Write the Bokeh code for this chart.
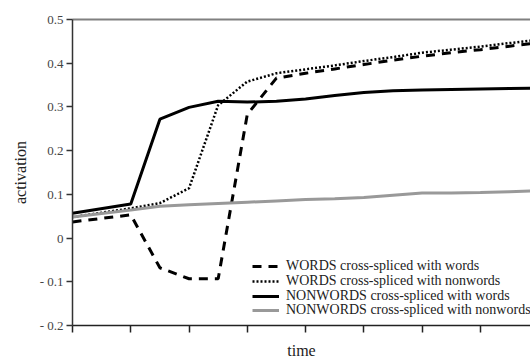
from bokeh.plotting import figure
from bokeh.models import Range1d, FixedTicker, LinearAxis, Legend, LegendItem, CustomLabelingPolicy
from bokeh.embed import file_html
from bokeh.resources import INLINE

# ---- data ----
t = [0, 1, 1.5, 2, 2.5, 3, 3.5, 4, 4.5, 5, 5.5, 6, 6.5, 7, 7.5, 8]
words_words = [0.037, 0.053, -0.068, -0.093, -0.093, 0.283, 0.366, 0.377, 0.387, 0.397,
               0.407, 0.416, 0.424, 0.431, 0.439, 0.447]
words_nonwords = [0.048, 0.068, 0.080, 0.114, 0.304, 0.358, 0.377, 0.386, 0.395, 0.405,
                  0.414, 0.424, 0.431, 0.438, 0.446, 0.454]
nonwords_words = [0.057, 0.078, 0.272, 0.299, 0.313, 0.311, 0.313, 0.318, 0.326, 0.333,
                  0.337, 0.339, 0.340, 0.341, 0.342, 0.343]
nonwords_nonwords = [0.048, 0.064, 0.073, 0.076, 0.079, 0.082, 0.085, 0.088, 0.090, 0.093,
                     0.098, 0.103, 0.103, 0.104, 0.106, 0.108]

series_labels = ["WORDS cross-spliced with words",
                 "WORDS cross-spliced with nonwords",
                 "NONWORDS cross-spliced with words",
                 "NONWORDS cross-spliced with nonwords"]
y_ticks = [-0.2, -0.1, 0, 0.1, 0.2, 0.3, 0.4, 0.5]
y_tick_labels = ["- 0.2", "- 0.1", "0", "0.1", "0.2", "0.3", "0.4", "0.5"]
x_ticks = [0, 1, 2, 3, 4, 5, 6, 7, 8]

FONT = "Liberation Serif"

p = figure(width=530, height=361, output_backend="svg", toolbar_location=None,
           x_range=Range1d(0, 7.86), y_range=Range1d(-0.2, 0.5),
           min_border_left=72, min_border_top=19, min_border_bottom=35, min_border_right=0)
p.outline_line_color = None
p.grid.visible = False
p.background_fill_color = "white"
p.border_fill_color = "white"

r1 = p.line(t, words_words, line_color="black", line_width=3, line_dash="9 7")
r2 = p.line(t, words_nonwords, line_color="black", line_width=2.5, line_dash="2 2")
r3 = p.line(t, nonwords_words, line_color="black", line_width=3)
r4 = p.line(t, nonwords_nonwords, line_color="#999999", line_width=3)

# y axis
ya = p.yaxis[0]
ya.ticker = FixedTicker(ticks=y_ticks)
ya.major_label_overrides = {v: s for v, s in zip(y_ticks, y_tick_labels)}
ya.major_label_text_font = FONT
ya.major_label_text_font_size = "13px"
ya.major_label_text_color = "#444444"
ya.major_tick_in = 0
ya.major_tick_out = 6
ya.minor_tick_line_color = None
ya.axis_line_color = "#333333"
ya.axis_line_width = 1.5
ya.major_tick_line_color = "#333333"
ya.major_tick_line_width = 1.5
ya.major_label_standoff = 3
ya.axis_label = "activation"
ya.axis_label_text_font = FONT
ya.axis_label_text_font_size = "16px"
ya.axis_label_text_font_style = "normal"
ya.axis_label_text_color = "#222222"
ya.axis_label_standoff = 8

# x axis: ticks without labels
xa = p.xaxis[0]
xa.ticker = FixedTicker(ticks=x_ticks)
xa.major_label_policy = CustomLabelingPolicy(code="""
for (const i of indices) { indices.unset(i) }
return indices
""")
xa.major_label_text_font_size = "1px"
xa.major_label_standoff = 0
xa.major_tick_in = 0
xa.major_tick_out = 7
xa.minor_tick_line_color = None
xa.axis_line_color = "#222222"
xa.axis_line_width = 1.5
xa.major_tick_line_color = "#222222"
xa.major_tick_line_width = 1.5
xa.axis_label = "time"
xa.axis_label_text_font = FONT
xa.axis_label_text_font_size = "16px"
xa.axis_label_text_font_style = "normal"
xa.axis_label_text_color = "#222222"
xa.axis_label_standoff = 5

# top border line
top = LinearAxis(ticker=FixedTicker(ticks=[]),
                 axis_line_color="#808080", axis_line_width=2,
                 major_tick_line_color=None, minor_tick_line_color=None)
p.add_layout(top, "above")

# legend: one entry per row, placed individually
row_offsets = [51, 36, 21, 7]
for lab, r, yoff in zip(series_labels, [r1, r2, r3, r4], row_offsets):
    lg = Legend(items=[LegendItem(label=lab, renderers=[r])],
                location=(180, yoff), padding=0, margin=0, spacing=0,
                label_height=14, glyph_height=14, glyph_width=27, label_standoff=7,
                label_text_font=FONT, label_text_font_size="14px",
                label_text_color="#222222",
                border_line_color=None, background_fill_alpha=0)
    p.add_layout(lg, "center")

open("out.html", "w").write(file_html(p, INLINE))
